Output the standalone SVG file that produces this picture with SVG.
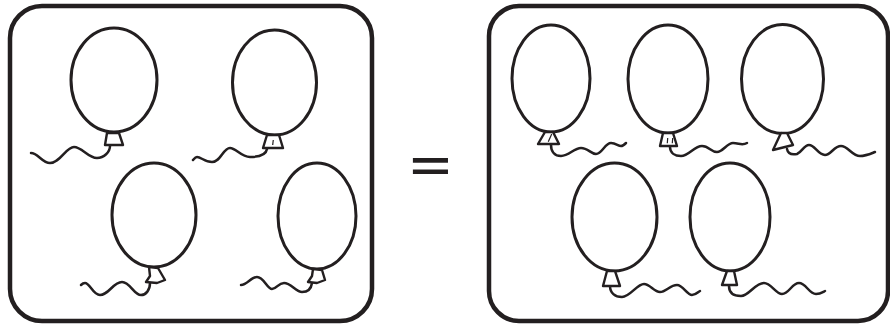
<svg xmlns="http://www.w3.org/2000/svg" width="890" height="329" viewBox="0 0 890 329">
<style>
.box{fill:none;stroke:#231f20;stroke-width:4.5}
.bal{fill:none;stroke:#231f20;stroke-width:3}
.knot{fill:#fff;stroke:#231f20;stroke-width:2.4;stroke-linejoin:round}
.str{fill:none;stroke:#231f20;stroke-width:2.5;stroke-linecap:round}
.mark{fill:none;stroke:#231f20;stroke-width:1.2}
.eq{font-family:"Liberation Sans",Arial,sans-serif;font-weight:bold;font-size:70px;fill:#231f20}
</style>
<rect width="890" height="329" fill="#fff"/>
<g id="left-box">
<rect class="box" x="10" y="6" width="362" height="315" rx="32" ry="32"/>
</g>
<g id="right-box">
<rect class="box" x="489" y="6" width="399" height="315" rx="30" ry="30"/>
</g>
<g id="strings">
<path class="str" d="M110,146 C110,152 104,158 97,158 C88,158 82,147 74,147 C66,147 60,163 50,163 C42,163 38,153 31,153"/>
<path class="str" d="M267,149 C266,155 258,157 250,157 C241,157 236,148 230,148 C223,148 221,162 212,162 C205,162 201,157 197,157 C195,157 194,159 193,160"/>
<path class="str" d="M150,283 C150,290 146,295 141,295 C134,295 130,282 122,282 C113,282 109,295 100,295 C93,295 90,283 85,283 C83,283 82,284 81,285"/>
<path class="str" d="M312,283 C311,290 307,292 302,292 C296,292 291,283 284,283 C278,283 277,289 272,289 C267,289 264,277 257,277 C251,277 247,285 241,285"/>
<path class="str" d="M551,145 C551,152 555,156 561,156 C569,156 574,148 581,148 C588,148 591,154 596,154 C602,154 605,143 611,143 C616,143 618,146 621,146 C623,146 625,144 626,143"/>
<path class="str" d="M670,147 C670,153 675,156 681,156 C689,156 694,146 702,146 C709,146 711,152 717,152 C723,152 727,143 733,143 C739,143 742,146 747,143"/>
<path class="str" d="M787,149 C788,154 792,155 797,154 C802,152 804,145 809,145 C815,145 818,155 825,155 C831,155 834,146 841,146 C848,146 852,156 860,156 C866,156 870,154 875,152"/>
<path class="str" d="M610,286 C610,293 615,297 622,297 C630,297 637,284 644,284 C650,284 654,292 660,292 C666,292 670,285 677,285 C683,285 687,295 692,295 C696,295 698,292 700,291"/>
<path class="str" d="M729,286 C729,293 733,296 741,296 C749,296 755,283 764,283 C771,283 776,294 782,294 C789,294 792,283 799,283 C806,283 809,294 816,294 C820,294 823,292 825,291"/>
</g>
<g id="balloon-1"><ellipse class="bal" cx="114" cy="80" rx="43" ry="52"/><path class="knot" d="M107,133 L119,133 L123,145 L105,145 Z"/></g>
<g id="balloon-2"><ellipse class="bal" cx="274.5" cy="82.5" rx="42" ry="52.5"/><path class="knot" d="M267,135 L279,135 L283,148 L263,148 Z"/><path class="mark" d="M273.3,140 L272.7,145"/></g>
<g id="balloon-3"><ellipse class="bal" cx="154" cy="215" rx="42" ry="52"/><path class="knot" d="M149,267 L158,268 L165,280 L157,283 L146,282 L150,276 Z"/></g>
<g id="balloon-4"><ellipse class="bal" cx="317" cy="216" rx="39" ry="53"/><path class="knot" d="M313,269 L322,270 L325,280 L317,283 L308,282 L312,276 Z"/></g>
<g id="balloon-5"><ellipse class="bal" cx="551" cy="78.5" rx="39" ry="53.5"/><path class="knot" d="M545,132 L553,132 L559,144 L538,144 Z"/><path class="mark" d="M551.7,134 L548.3,141.7"/></g>
<g id="balloon-6"><ellipse class="bal" cx="668" cy="79" rx="40" ry="54"/><path class="knot" d="M663,133 L673,133 L677,146 L660,146 Z"/><path class="mark" d="M667.7,138 L667.3,143.3 M672.7,138 L672.3,143.3"/></g>
<g id="balloon-7"><ellipse class="bal" cx="782.5" cy="79" rx="41" ry="54.5"/><path class="knot" d="M781,133 L787,133 L793,145 L773,150 Z"/></g>
<g id="balloon-8"><ellipse class="bal" cx="614.5" cy="217" rx="42.5" ry="54"/><path class="knot" d="M607,271 L615,271 L620,286 L603,286 Z"/></g>
<g id="balloon-9"><ellipse class="bal" cx="730" cy="217" rx="40" ry="54"/><path class="knot" d="M727,271 L734,271 L737,285 L722,285 Z"/></g>
<g id="equals">
<text class="eq" transform="translate(430.5,165) scale(1,0.62)" x="0" y="25.3" text-anchor="middle">=</text>
</g>
</svg>
